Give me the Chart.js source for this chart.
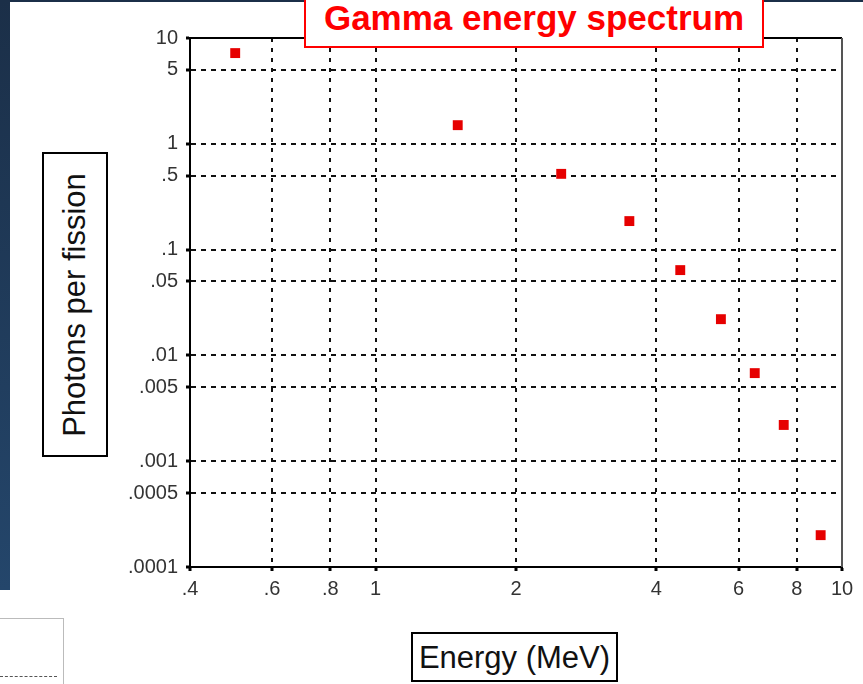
<!DOCTYPE html>
<html>
<head>
<meta charset="utf-8">
<script src="https://cdn.jsdelivr.net/npm/chart.js@4/dist/chart.umd.min.js"></script>
<style>
  html, body { margin: 0; padding: 0; background: #fff; }
  #wrap { position: relative; width: 863px; height: 684px; overflow: hidden; background: #fff; font-family: "Liberation Sans", Arial, sans-serif; }
  #c { position: absolute; left: 0; top: 0; }
  #strip { position: absolute; left: 0; top: 0; width: 10px; height: 590px; background: linear-gradient(#1b2f48, #24466b); }
  #topline { position: absolute; left: 0; top: 0; width: 863px; height: 2px; background: #1b2f48; }
  #title { position: absolute; left: 304px; top: -2px; width: 456px; height: 46px; border: 2px solid #f00; background: #fff;
           color: #f00; font-weight: bold; font-size: 35px; line-height: 35px; text-align: center; }
  #title span { position: relative; top: 0px; }
  #ybox { position: absolute; left: 42px; top: 152px; width: 62px; height: 301px; border: 2px solid #000; background: #fff; }
  #ybox div { position: absolute; left: 50%; top: 50%; transform: translate(-50%, -50%) rotate(-90deg); white-space: nowrap;
              font-size: 31px; line-height: 34px; color: #111; }
  #xbox { position: absolute; left: 411px; top: 632px; width: 203px; height: 46px; border: 2px solid #000; background: #fff;
          font-size: 31px; line-height: 48px; text-align: center; color: #111; white-space: nowrap; }
  #blbox { position: absolute; left: -1px; top: 618px; width: 63px; height: 80px; border: 1px solid #bbb; background: #fff; }
  #bldash { position: absolute; left: 0; top: 676px; width: 57px; height: 0; border-top: 1px dashed #555; }
</style>
</head>
<body>
<div id="wrap">
  <canvas id="c" width="863" height="684"></canvas>
  <div id="strip"></div>
  <div id="topline"></div>
  <div id="title"><span>Gamma energy spectrum</span></div>
  <div id="ybox"><div>Photons per fission</div></div>
  <div id="xbox">Energy (MeV)</div>
  <div id="blbox"></div>
  <div id="bldash"></div>
</div>
<script>
// ---- data ----
const energies = [0.5, 1.5, 2.5, 3.5, 4.5, 5.5, 6.5, 7.5, 9];
const photons  = [7.2, 1.5, 0.52, 0.186, 0.064, 0.022, 0.0068, 0.0022, 0.0002];
const xTickValues = [0.4, 0.6, 0.8, 1, 2, 4, 6, 8, 10];
const xTickLabels = ['.4', '.6', '.8', '1', '2', '4', '6', '8', '10'];
const yTickValues = [10, 5, 1, 0.5, 0.1, 0.05, 0.01, 0.005, 0.001, 0.0005, 0.0001];
const yTickLabels = ['10', '5', '1', '.5', '.1', '.05', '.01', '.005', '.001', '.0005', '.0001'];

const points = energies.map((e, i) => ({ x: e, y: photons[i] }));

const frame = {
  id: 'frame',
  afterDraw(chart) {
    const { ctx, chartArea: a } = chart;
    ctx.save();
    ctx.lineWidth = 2;
    ctx.strokeStyle = '#000';
    ctx.beginPath();
    ctx.moveTo(a.left, a.top);
    ctx.lineTo(a.right, a.top);
    ctx.stroke();
    ctx.strokeStyle = '#555';
    ctx.beginPath();
    ctx.moveTo(a.right, a.top);
    ctx.lineTo(a.right, a.bottom);
    ctx.stroke();
    ctx.restore();
  }
};

const tickFont = { family: '"Liberation Sans", Arial, sans-serif', size: 20 };

new Chart(document.getElementById('c'), {
  type: 'scatter',
  data: {
    datasets: [{
      data: points,
      pointStyle: 'rect',
      pointRadius: 7,
      pointHoverRadius: 7,
      backgroundColor: '#e60000',
      borderColor: '#e60000',
      borderWidth: 0
    }]
  },
  options: {
    responsive: false,
    animation: false,
    devicePixelRatio: 1,
    layout: { padding: { left: 110, top: 38, right: 21, bottom: 77 } },
    plugins: { legend: { display: false }, tooltip: { enabled: false } },
    scales: {
      x: {
        type: 'logarithmic',
        min: 0.4, max: 10,
        afterBuildTicks(s) { s.ticks = xTickValues.map(v => ({ value: v })); },
        afterFit(s) { s.height = 40; },
        ticks: {
          autoSkip: false, maxRotation: 0, padding: 6, color: '#333', font: tickFont,
          callback(v, i) { return xTickLabels[i]; }
        },
        grid: {
          color(ctx) { const v = ctx.tick && ctx.tick.value; return (v === 0.4 || v === 10) ? 'rgba(0,0,0,0)' : '#111'; },
          lineWidth: 2,
          tickLength: 4, tickWidth: 3, tickColor: '#000', tickBorderDash: []
        },
        border: { display: true, color: '#000', width: 2, dash: [4, 6] }
      },
      y: {
        type: 'logarithmic',
        min: 0.0001, max: 10,
        afterBuildTicks(s) { s.ticks = yTickValues.map(v => ({ value: v })); },
        afterFit(s) { s.width = 80; },
        ticks: {
          autoSkip: false, padding: 8, color: '#333', font: tickFont,
          callback(v, i) { return yTickLabels[i]; }
        },
        grid: {
          color(ctx) { const v = ctx.tick && ctx.tick.value; return (v === 10 || v === 0.0001) ? 'rgba(0,0,0,0)' : '#111'; },
          lineWidth: 2,
          tickLength: 4, tickWidth: 3, tickColor: '#000', tickBorderDash: []
        },
        border: { display: true, color: '#000', width: 2, dash: [5, 5] }
      }
    }
  },
  plugins: [frame]
});
</script>
</body>
</html>
